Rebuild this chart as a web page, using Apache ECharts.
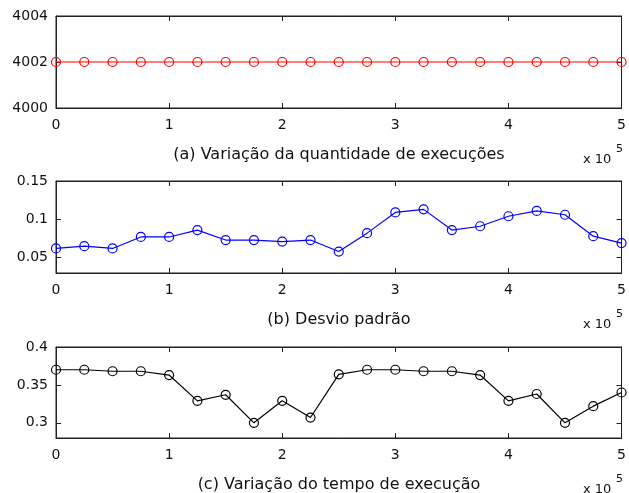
<!DOCTYPE html>
<html>
<head>
<meta charset="utf-8">
<script src="https://cdn.jsdelivr.net/npm/echarts@6/dist/echarts.min.js"></script>
<style>
  html, body { margin: 0; padding: 0; background: #fff; }
  #chart { width: 629px; height: 493px; }
</style>
</head>
<body>
<div id="chart"></div>
<script>
// x positions (execucoes), 0 .. 5e5 step 2.5e4
var xVals = [0, 25000, 50000, 75000, 100000, 125000, 150000, 175000, 200000, 225000, 250000,
             275000, 300000, 325000, 350000, 375000, 400000, 425000, 450000, 475000, 500000];

// (a) quantidade de execucoes
var qtdExec = [4002, 4002, 4002, 4002, 4002, 4002, 4002, 4002, 4002, 4002, 4002,
               4002, 4002, 4002, 4002, 4002, 4002, 4002, 4002, 4002, 4002];
// (b) desvio padrao
var desvio = [0.062, 0.065, 0.062, 0.077, 0.077, 0.086, 0.073, 0.073, 0.071, 0.073, 0.058,
              0.082, 0.109, 0.113, 0.086, 0.091, 0.104, 0.111, 0.106, 0.078, 0.069];
// (c) tempo de execucao
var tempo = [0.370, 0.370, 0.368, 0.368, 0.363, 0.329, 0.337, 0.300, 0.329, 0.307, 0.364,
             0.370, 0.370, 0.368, 0.368, 0.363, 0.329, 0.338, 0.300, 0.322, 0.340];

var yTicksA = [4000, 4002, 4004];
var yTicksB = [0.05, 0.1, 0.15];
var yTicksC = [0.3, 0.35, 0.4];

var captions = ['(a) Variação da quantidade de execuções', '(b) Desvio padrão', '(c) Variação do tempo de execução'];

var chart = echarts.init(document.getElementById('chart'));

var FONT = 'DejaVu Sans';
var AX = '#222';
var grids = [
  { left: 56, right: 6, top: 16, height: 92, show: true, borderColor: AX, borderWidth: 1 },
  { left: 56, right: 6, top: 181, height: 92, show: true, borderColor: AX, borderWidth: 1 },
  { left: 56, right: 6, top: 347, height: 91, show: true, borderColor: AX, borderWidth: 1 }
];
var yRanges = [[4000, 4004], [0.03, 0.15], [0.28, 0.4]];
var yTicks = [yTicksA, yTicksB, yTicksC];
var seriesData = [qtdExec, desvio, tempo];
var colors = ['#ff0000', '#0000ff', '#000000'];

var xAxes = [], yAxes = [], series = [], graphics = [];
for (var i = 0; i < 3; i++) {
  var line = { show: true, onZero: false, lineStyle: { color: AX, width: 1 } };
  var tick = { show: true, inside: true, length: 5, lineStyle: { color: AX } };
  // bottom axis with labels
  xAxes.push({
    gridIndex: i, type: 'value', position: 'bottom', min: 0, max: 500000, interval: 100000,
    axisLine: line, splitLine: { show: false }, axisTick: tick,
    axisLabel: { margin: 10, color: '#111', fontFamily: FONT, fontSize: 14,
      formatter: function (v) { return String(v / 100000); } }
  });
  // top axis, ticks only
  xAxes.push({
    gridIndex: i, type: 'value', position: 'top', min: 0, max: 500000, interval: 100000,
    axisLine: line, splitLine: { show: false }, axisTick: tick,
    axisLabel: { show: false }
  });
  yAxes.push({
    gridIndex: i, type: 'value', position: 'left', min: yRanges[i][0], max: yRanges[i][1],
    axisLine: line, splitLine: { show: false },
    axisTick: { show: true, inside: true, length: 5, lineStyle: { color: AX }, customValues: yTicks[i] },
    axisLabel: { margin: 8, color: '#111', fontFamily: FONT, fontSize: 14, customValues: yTicks[i],
      formatter: function (v) { return String(v); } }
  });
  yAxes.push({
    gridIndex: i, type: 'value', position: 'right', min: yRanges[i][0], max: yRanges[i][1],
    axisLine: line, splitLine: { show: false },
    axisTick: { show: true, inside: true, length: 5, lineStyle: { color: AX }, customValues: yTicks[i] },
    axisLabel: { show: false }
  });
  var pts = [];
  for (var k = 0; k < xVals.length; k++) pts.push([xVals[k], seriesData[i][k]]);
  series.push({
    type: 'line', xAxisIndex: i * 2, yAxisIndex: i * 2, data: pts,
    symbol: 'circle', symbolSize: 9, clip: false, animation: false,
    lineStyle: { color: colors[i], width: 1.2 },
    itemStyle: { color: 'rgba(0,0,0,0)', borderColor: colors[i], borderWidth: 1.2 }
  });
  // empty series so the top / right tick axes get drawn
  series.push({
    type: 'line', xAxisIndex: i * 2 + 1, yAxisIndex: i * 2 + 1, data: [], silent: true
  });

  var axisY = grids[i].top + grids[i].height;
  graphics.push({
    type: 'text', x: 339, y: axisY + 47,
    style: { text: captions[i], font: '16px "' + FONT + '"', fill: '#111', align: 'center', verticalAlign: 'middle' }
  });
  graphics.push({
    type: 'text', x: 583, y: axisY + 45,
    style: { text: 'x 10', font: '13px "' + FONT + '"', fill: '#111' }
  });
  graphics.push({
    type: 'text', x: 616, y: axisY + 36,
    style: { text: '5', font: '11px "' + FONT + '"', fill: '#111' }
  });
}

chart.setOption({
  backgroundColor: '#fff',
  animation: false,
  grid: grids,
  xAxis: xAxes,
  yAxis: yAxes,
  series: series,
  graphic: graphics
});
</script>
</body>
</html>
